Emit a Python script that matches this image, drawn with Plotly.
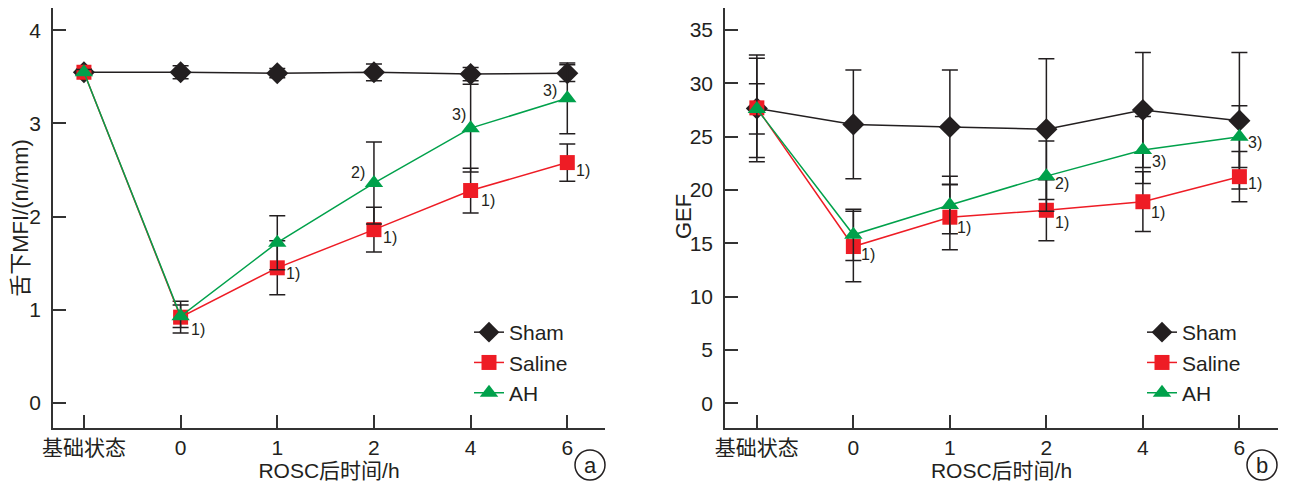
import plotly.graph_objects as go

# ---------------- data ----------------
categories = ["基础状态", "0", "1", "2", "4", "6"]
x_idx = list(range(len(categories)))

# Panel a: sublingual MFI (n/mm)
mfi_sham = [3.55, 3.55, 3.54, 3.55, 3.53, 3.54]
mfi_sham_err = [0.03, 0.07, 0.05, 0.09, 0.07, 0.09]
mfi_saline = [3.55, 0.92, 1.45, 1.86, 2.28, 2.58]
mfi_saline_err = [0.03, 0.17, 0.29, 0.24, 0.24, 0.20]
mfi_ah = [3.55, 0.93, 1.72, 2.36, 2.95, 3.27]
mfi_ah_err = [0.03, 0.12, 0.29, 0.44, 0.47, 0.38]

# Panel b: GEF
gef_sham = [27.65, 26.15, 25.9, 25.7, 27.5, 26.5]
gef_sham_err = [5.0, 5.1, 5.35, 6.6, 5.4, 6.4]
gef_saline = [27.7, 14.7, 17.45, 18.1, 18.9, 21.25]
gef_saline_err = [4.65, 3.3, 3.05, 2.85, 2.8, 2.35]
gef_ah = [27.6, 15.8, 18.6, 21.3, 23.75, 25.0]
gef_ah_err = [2.35, 2.4, 2.7, 3.3, 3.15, 2.9]

series_names = ["Sham", "Saline", "AH"]
colors = ["#231F20", "#EE1C25", "#00A14B"]
symbols = ["diamond", "square", "triangle-up"]
marker_sizes = [17, 15, 16]

# significance labels: (series index, point index, label)
sig_a = [(1, 1, "1)"), (1, 2, "1)"), (1, 3, "1)"), (1, 4, "1)"), (1, 5, "1)"),
         (2, 3, "2)"), (2, 4, "3)"), (2, 5, "3)")]
sig_b = [(1, 1, "1)"), (1, 2, "1)"), (1, 3, "1)"), (1, 4, "1)"), (1, 5, "1)"),
         (2, 3, "2)"), (2, 4, "3)"), (2, 5, "3)")]

FONT = "Liberation Sans, Arial, Noto Sans CJK SC, sans-serif"
AXC = "#333333"
TXT = "#231F20"

# page has an 8px body margin: build figure 8px smaller, positions shifted
OFF = 8
W, H = 1290 - OFF, 485 - OFF


def px(x):
    return (x - OFF) / W


def py(y):
    return (H - (y - OFF)) / H


fig = go.Figure()

panels = [
    ("x", "y", "legend", [mfi_sham, mfi_saline, mfi_ah],
     [mfi_sham_err, mfi_saline_err, mfi_ah_err]),
    ("x2", "y2", "legend2", [gef_sham, gef_saline, gef_ah],
     [gef_sham_err, gef_saline_err, gef_ah_err]),
]

for xa, ya, lg, vals, errs in panels:
    for i, name in enumerate(series_names):
        fig.add_trace(go.Scatter(
            x=x_idx, y=vals[i], name=name, mode="lines+markers",
            xaxis=xa, yaxis=ya, legend=lg,
            line=dict(color=colors[i], width=1.5),
            marker=dict(symbol=symbols[i], size=marker_sizes[i], color=colors[i],
                        line=dict(width=0)),
            error_y=dict(type="data", array=errs[i], visible=True,
                         color=TXT, thickness=1.5, width=8),
        ))

annotations = []
shift_a = {
    (1, 1): (17, -12), (1, 2): (16, -6), (1, 3): (16, -8), (1, 4): (17, -10),
    (1, 5): (16, -8), (2, 3): (-16, 11), (2, 4): (-12, 14), (2, 5): (-17, 8),
}
shift_b = {
    (1, 1): (15, -8), (1, 2): (14, -10), (1, 3): (16, -12), (1, 4): (15, -11),
    (1, 5): (16, -7), (2, 3): (16, -7), (2, 4): (16, -12), (2, 5): (16, -6),
}
vals_a = [mfi_sham, mfi_saline, mfi_ah]
vals_b = [gef_sham, gef_saline, gef_ah]
for (s, p, t) in sig_a:
    dx, dy = shift_a[(s, p)]
    annotations.append(dict(x=x_idx[p], y=vals_a[s][p], xref="x", yref="y", text=t,
                            showarrow=False, xshift=dx, yshift=dy,
                            font=dict(family=FONT, size=16, color=TXT)))
for (s, p, t) in sig_b:
    dx, dy = shift_b[(s, p)]
    annotations.append(dict(x=x_idx[p], y=vals_b[s][p], xref="x2", yref="y2", text=t,
                            showarrow=False, xshift=dx, yshift=dy,
                            font=dict(family=FONT, size=16, color=TXT)))

# GEF axis title (placed close to tick labels as in the original)
annotations.append(dict(x=px(683), y=py(217), xref="paper", yref="paper",
                        text="GEF", textangle=-90, showarrow=False,
                        xanchor="center", yanchor="middle",
                        font=dict(family=FONT, size=22, color=TXT)))

# panel letters in circles
shapes = []
for letter, cx in (("a", 590), ("b", 1262)):
    annotations.append(dict(x=px(cx), y=py(465), xref="paper", yref="paper",
                            text=letter, showarrow=False,
                            xanchor="center", yanchor="middle",
                            font=dict(family=FONT, size=22, color=TXT)))
    shapes.append(dict(type="circle", xref="paper", yref="paper",
                       x0=px(cx - 15), x1=px(cx + 15),
                       y0=py(480), y1=py(450),
                       line=dict(color=TXT, width=1.5)))

xcommon = dict(tickmode="array", tickvals=x_idx, ticktext=categories,
               showline=True, linecolor=AXC, linewidth=1.5, mirror=False,
               ticks="inside", ticklen=13, tickwidth=1.5, tickcolor=AXC,
               showgrid=False, zeroline=False, automargin=False,
               tickfont=dict(family=FONT, size=21, color=TXT),
               title=dict(text="ROSC后时间/h", standoff=4,
                          font=dict(family=FONT, size=21, color=TXT)))
ycommon = dict(showline=True, linecolor=AXC, linewidth=1.5, mirror=False,
               ticks="inside", ticklen=13, tickwidth=1.5, tickcolor=AXC,
               showgrid=False, zeroline=False, ticklabelstandoff=6, automargin=False,
               tickfont=dict(family=FONT, size=21, color=TXT))

ybot = py(428)
ytop = 1.0

fig.update_layout(
    width=W, height=H,
    margin=dict(l=0, r=0, t=0, b=0, autoexpand=False),
    paper_bgcolor="white", plot_bgcolor="white",
    font=dict(family=FONT, size=21, color=TXT),
    xaxis=dict(domain=[px(53), px(605)], range=[-0.32, 5.39], anchor="y", **xcommon),
    yaxis=dict(domain=[ybot, ytop], range=[-0.27, 4.24], anchor="x",
               tickvals=[0, 1, 2, 3, 4],
               title=dict(text="舌下MFI/(n/mm)", standoff=0,
                          font=dict(family=FONT, size=22, color=TXT)),
               **ycommon),
    xaxis2=dict(domain=[px(725), px(1278)], range=[-0.33, 5.40], anchor="y2", **xcommon),
    yaxis2=dict(domain=[ybot, ytop], range=[-2.31, 37.06], anchor="x2",
                tickvals=[0, 5, 10, 15, 20, 25, 30, 35],
                **ycommon),
    legend=dict(x=px(509 - 40), y=py(312), xanchor="left", yanchor="top",
                bgcolor="rgba(0,0,0,0)", font=dict(family=FONT, size=21, color=TXT),
                tracegroupgap=0),
    legend2=dict(x=px(1182 - 40), y=py(312), xanchor="left", yanchor="top",
                 bgcolor="rgba(0,0,0,0)", font=dict(family=FONT, size=21, color=TXT),
                 tracegroupgap=0),
    showlegend=True,
    annotations=annotations,
    shapes=shapes,
)

fig.write_html("out.html")
